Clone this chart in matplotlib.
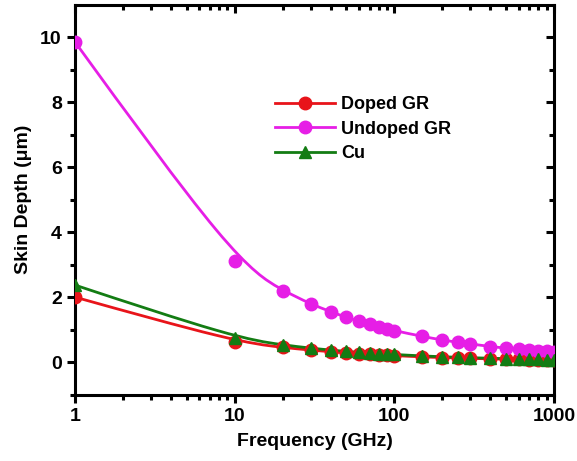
import numpy as np
import matplotlib
matplotlib.use('Agg')
import matplotlib.pyplot as plt
from matplotlib.path import Path
from matplotlib.patches import PathPatch
from matplotlib.lines import Line2D
from matplotlib.ticker import FixedLocator, LogLocator, NullFormatter

plt.rcParams['font.family'] = 'Liberation Sans'
plt.rcParams['font.weight'] = 'bold'
plt.rcParams['axes.labelweight'] = 'bold'

# frequency points (GHz)
freq = [1, 10, 20, 30, 40, 50, 60, 70, 80, 90, 100,
        150, 200, 250, 300, 400, 500, 600, 700, 800, 900, 1000]

# skin depth (um)
doped_gr = [2.00, 0.63, 0.45, 0.37, 0.32, 0.28, 0.26, 0.24, 0.22, 0.21, 0.20,
            0.16, 0.14, 0.13, 0.115, 0.10, 0.09, 0.082, 0.076, 0.071, 0.067, 0.063]
undoped_gr = [9.85, 3.10, 2.20, 1.79, 1.55, 1.38, 1.26, 1.16, 1.09, 1.03, 0.97,
              0.79, 0.68, 0.61, 0.56, 0.48, 0.43, 0.40, 0.37, 0.35, 0.33, 0.31]
cu = [2.37, 0.75, 0.53, 0.43, 0.37, 0.33, 0.30, 0.28, 0.26, 0.25, 0.235,
      0.19, 0.165, 0.15, 0.135, 0.12, 0.105, 0.097, 0.09, 0.084, 0.079, 0.075]

labels = ['Doped GR', 'Undoped GR', 'Cu']
colors = ['#e8141a', '#e61ee6', '#137c13']
markers = ['o', 'o', '^']


def bspline(x, y):
    # cubic B-spline with the data as control points, worked out in log-x
    # and written as Bezier segments; phantom end points pin it to the ends
    p = np.column_stack([np.log10(x), y])
    p = np.vstack([2 * p[0] - p[1], p, 2 * p[-1] - p[-2]])
    verts, codes = [], []
    for i in range(len(p) - 3):
        b0, b1, b2, b3 = p[i:i + 4]
        q0 = (b0 + 4 * b1 + b2) / 6
        q1 = (2 * b1 + b2) / 3
        q2 = (b1 + 2 * b2) / 3
        q3 = (b1 + 4 * b2 + b3) / 6
        if i == 0:
            verts.append(q0)
            codes.append(Path.MOVETO)
        verts += [q1, q2, q3]
        codes += [Path.CURVE4] * 3
    verts = np.array(verts)
    verts[:, 0] = 10 ** verts[:, 0]
    return Path(verts, codes)


fig = plt.figure(figsize=(5.77, 4.61), dpi=100)
ax = fig.add_axes([0.130, 0.144, 0.830, 0.846])
ax.set_xscale('log')
ax.set_xlim(1, 1000)
ax.set_ylim(-1, 11)

handles = []
for y, lab, c, m in zip([doped_gr, undoped_gr, cu], labels, colors, markers):
    ax.add_patch(PathPatch(bspline(freq, y), transform=ax.transData,
                           fill=False, edgecolor=c, lw=2.0, zorder=2))
    ax.plot(freq, y, linestyle='none', marker=m, color=c, markersize=9, zorder=3)
    handles.append(Line2D([], [], color=c, lw=2.0, marker=m, markersize=9))

ax.legend(handles, labels, loc='upper left', bbox_to_anchor=(275 / 577, 1 - 96 / 461),
          bbox_transform=fig.transFigure, frameon=False, fontsize=13,
          handlelength=3.3, handletextpad=0.35, labelspacing=0.42,
          borderpad=0, borderaxespad=0)

ax.yaxis.set_major_locator(FixedLocator([0, 2, 4, 6, 8, 10]))
ax.yaxis.set_minor_locator(FixedLocator([-1, 1, 3, 5, 7, 9]))
ax.xaxis.set_minor_locator(LogLocator(base=10, subs=np.arange(2, 10)))
ax.xaxis.set_minor_formatter(NullFormatter())
ax.set_xticks([1, 10, 100, 1000])
ax.set_xticklabels(['1', '10', '100', '1000'])

for s in ax.spines.values():
    s.set_linewidth(2.2)
ax.tick_params(which='both', width=2.2, labelsize=14)
ax.tick_params(which='major', length=6)
ax.tick_params(which='minor', length=3.5)
ax.tick_params(which='both', top=True, right=True)
# mirrored ticks on top/right point inwards
for t in ax.xaxis.get_major_ticks() + ax.xaxis.get_minor_ticks():
    t.tick2line.set_marker(3)
for t in ax.yaxis.get_major_ticks() + ax.yaxis.get_minor_ticks():
    t.tick2line.set_marker(0)

ax.set_xlabel('Frequency (GHz)', fontsize=14, fontweight='bold', labelpad=6)
ax.set_ylabel('Skin Depth (\u03bcm)', fontsize=14, fontweight='bold', labelpad=6)

fig.savefig('out.png', dpi=100)
